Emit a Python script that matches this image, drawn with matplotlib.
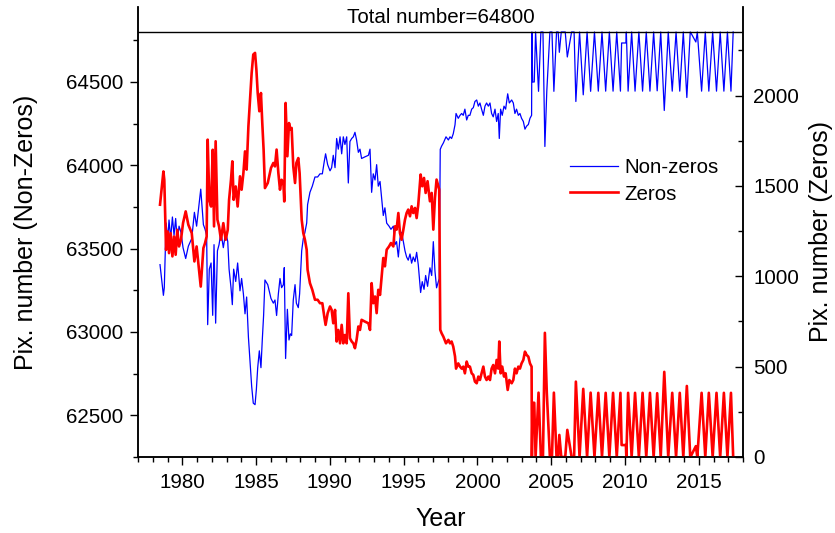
import numpy as np
import matplotlib.pyplot as plt
from matplotlib.lines import Line2D
from matplotlib.ticker import MultipleLocator

plt.rcParams["font.family"] = ["Liberation Sans", "DejaVu Sans"]

# ── Data ──────────────────────────────────────────────────────────────────────
TOTAL = 64800  # every pixel is either zero or non-zero

# zero-pixel counts, 1978.5 – mid 2003 (irregular spacing)
trace_years = [
    1978.49, 1978.72, 1978.78, 1978.90,
    1979.01, 1979.10, 1979.21, 1979.33, 1979.44, 1979.55, 1979.66, 1979.78, 1979.91,
    1980.05, 1980.23, 1980.41, 1980.64, 1980.82, 1980.97,
    1981.16, 1981.25, 1981.43, 1981.54, 1981.65, 1981.72, 1981.83, 1981.95,
    1982.06, 1982.15, 1982.26, 1982.38, 1982.49, 1982.62, 1982.78, 1982.94,
    1983.08, 1983.17, 1983.30, 1983.39, 1983.48, 1983.62, 1983.75, 1983.91,
    1984.02, 1984.14, 1984.25, 1984.36, 1984.48, 1984.59, 1984.70, 1984.81, 1984.93,
    1985.02, 1985.11, 1985.22, 1985.33, 1985.42, 1985.51, 1985.60, 1985.79, 1985.94,
    1986.01, 1986.17, 1986.28, 1986.39, 1986.51, 1986.62, 1986.73, 1986.85, 1986.91,
    1987.00, 1987.12, 1987.23, 1987.32, 1987.41, 1987.52, 1987.64, 1987.73, 1987.86, 1987.95,
    1988.09, 1988.20, 1988.31, 1988.43, 1988.49, 1988.65, 1988.81, 1988.99,
    1989.17, 1989.33, 1989.49, 1989.62, 1989.71, 1989.85,
    1990.01, 1990.12, 1990.23, 1990.35, 1990.46, 1990.57, 1990.69, 1990.80, 1990.91,
    1991.02, 1991.14, 1991.25, 1991.36, 1991.48, 1991.59, 1991.70, 1991.81, 1991.93,
    1992.04, 1992.15, 1992.38, 1992.61, 1992.72, 1992.83, 1992.94,
    1993.06, 1993.17, 1993.28, 1993.40, 1993.51, 1993.62, 1993.73, 1993.85,
    1994.01, 1994.14, 1994.30, 1994.41, 1994.52, 1994.64, 1994.75, 1994.86, 1994.98,
    1995.09, 1995.20, 1995.31, 1995.43, 1995.54, 1995.65, 1995.77, 1995.88, 1995.99,
    1996.15, 1996.26, 1996.38, 1996.49, 1996.62, 1996.78, 1996.90,
    1997.01, 1997.12, 1997.23, 1997.35, 1997.41, 1997.48, 1997.57, 1997.69, 1997.87,
    1998.03, 1998.14, 1998.25, 1998.36, 1998.48, 1998.55, 1998.70, 1998.82, 1998.93,
    1999.04, 1999.15, 1999.27, 1999.38, 1999.49, 1999.61, 1999.72, 1999.83, 1999.95,
    2000.06, 2000.17, 2000.28, 2000.40, 2000.51, 2000.62, 2000.74, 2000.85, 2000.96,
    2001.07, 2001.19, 2001.30, 2001.41, 2001.48, 2001.57, 2001.68, 2001.80, 2001.91,
    2002.05, 2002.16, 2002.32, 2002.43, 2002.54, 2002.65, 2002.77, 2002.88, 2002.99,
    2003.11, 2003.22, 2003.33, 2003.45, 2003.56, 2003.67,
]
trace_zeros = [
    1396, 1580, 1534, 1146,
    1248, 1128, 1239, 1110, 1220, 1119, 1257, 1165, 1202,
    1294, 1359, 1285, 1239, 1082, 1165,
    1017, 943, 1156, 1183, 1220, 1756, 1423, 1386,
    1700, 1276, 1747, 1313, 1276, 1202, 1294, 1202,
    1257, 1423, 1534, 1636, 1423, 1497, 1386, 1553,
    1479, 1571, 1691, 1590, 1830, 1978, 2125, 2227, 2236,
    2144, 2014, 1913, 2014, 1848, 1700, 1488, 1516, 1571,
    1599, 1627, 1608, 1701, 1571, 1479, 1534, 1516, 1414,
    1959, 1664, 1848, 1811, 1821, 1608, 1516, 1627, 1654, 1571,
    1313, 1239, 1202, 1146, 1036, 962, 925, 870,
    870, 851, 851, 777, 731, 796,
    833, 814, 740, 814, 639, 703, 629, 731, 629,
    675, 629, 906, 657, 639, 629, 602, 648, 722,
    703, 759, 749, 740, 703, 962, 851,
    888, 796, 925, 897, 999, 1101, 1055, 1147,
    1165, 1184, 1165, 1276, 1258, 1350, 1239, 1202, 1258,
    1313, 1350, 1369, 1332, 1387, 1350, 1378, 1322, 1396,
    1563, 1498, 1544, 1461, 1526, 1415, 1461,
    1258, 1433, 1535, 1498, 1480, 704, 685, 666, 629,
    648, 629, 639, 611, 557, 489, 518, 500, 489,
    500, 463, 528, 500, 500, 463, 454, 417, 408,
    445, 426, 463, 500, 445, 426, 445, 426, 489,
    509, 463, 537, 489, 639, 463, 500, 445, 463,
    371, 426, 408, 426, 489, 463, 500, 489, 518,
    537, 583, 565, 555, 518, 500,
]

# after mid 2003 the count swings between 0 and ~355 twice a year:
# peaks and troughs
swing_years = [
    2003.69, 2003.74, 2003.85, 2003.94,
    2004.14, 2004.30, 2004.44, 2004.57, 2004.70, 2004.91,
    2005.05, 2005.18, 2005.36, 2005.47, 2005.55, 2005.68,
    2005.95, 2006.09, 2006.38, 2006.55, 2006.67, 2006.92,
    2007.17, 2007.43, 2007.67, 2007.93,
    2008.19, 2008.44, 2008.69, 2008.94,
    2009.19, 2009.44, 2009.69, 2009.77, 2010.06, 2010.09,
    2010.21, 2010.45, 2010.68, 2010.94,
    2011.19, 2011.44, 2011.69, 2011.94,
    2012.18, 2012.42, 2012.66, 2012.93,
    2013.20, 2013.46, 2013.71, 2013.95,
    2014.19, 2014.42, 2014.50, 2014.80, 2014.90,
    2015.19, 2015.44, 2015.68, 2015.94,
    2016.20, 2016.45, 2016.70, 2016.94,
    2017.18, 2017.33,
]
swing_zeros = [
    0, 300, 300, 0,
    356, 0, 0, 687, 355, 0,
    0, 356, 0, 0, 122, 0,
    0, 150, 0, 0, 417, 0,
    377, 0, 356, 0,
    355, 0, 355, 0,
    355, 0, 355, 66, 66, 0,
    355, 0, 355, 0,
    355, 0, 355, 0,
    353, 0, 471, 0,
    355, 0, 355, 0,
    393, 0, 11, 60, 0,
    355, 0, 355, 0,
    355, 0, 355, 0,
    355, 0,
]

years = np.concatenate([trace_years, swing_years])
zeros = np.concatenate([trace_zeros, swing_zeros]).astype(float)
nonzeros = TOTAL - zeros

# ── Plot ──────────────────────────────────────────────────────────────────────
BLUE, RED = "#0000ff", "#ff0000"
FS_TICK, FS_LABEL = 14.8, 18
LW_BLUE, LW_RED = 0.9, 1.9

fig = plt.figure(figsize=(8.35, 5.33), dpi=100)
ax = fig.add_axes([0.1653, 0.1426, 0.7246, 0.8443])
ax2 = ax.twinx()

ax.plot(years, nonzeros, color=BLUE, lw=LW_BLUE)
ax2.plot(years, zeros, color=RED, lw=LW_RED)
ax.axhline(TOTAL, color="black", lw=1.0, zorder=5)

ax.set_xlim(1977, 2018)
ax.set_ylim(62250, 64950)
ax2.set_ylim(0, 2490)

ax.xaxis.set_major_locator(MultipleLocator(5))
ax.xaxis.set_minor_locator(MultipleLocator(1))
ax.yaxis.set_major_locator(MultipleLocator(500))
ax.yaxis.set_minor_locator(MultipleLocator(250))
ax2.yaxis.set_major_locator(MultipleLocator(500))
ax2.yaxis.set_minor_locator(MultipleLocator(250))

for a in (ax, ax2):
    a.spines["top"].set_visible(False)
    for s in a.spines.values():
        s.set_linewidth(1.1)

ax.tick_params(axis="both", which="major", direction="out", length=6.1,
               width=1.0, labelsize=FS_TICK, top=False, right=False)
ax.tick_params(axis="both", which="minor", direction="out", length=3.6,
               width=1.0, top=False, right=False)
ax.tick_params(axis="x", which="major", pad=5.4)
ax.tick_params(axis="y", which="major", pad=4.7)
ax2.tick_params(axis="y", which="major", direction="in", length=6.1,
                width=1.0, labelsize=FS_TICK, pad=7.2)
ax2.tick_params(axis="y", which="minor", direction="in", length=3.6, width=1.0)

ax.set_xlabel("Year", fontsize=FS_LABEL)
ax.set_ylabel("Pix. number (Non-Zeros)", fontsize=FS_LABEL)
ax2.set_ylabel("Pix. number (Zeros)", fontsize=FS_LABEL)
ax.xaxis.set_label_coords(0.5, -0.112)
ax.yaxis.set_label_coords(-0.165, 0.5)
ax2.yaxis.set_label_coords(1.109, 0.5)

ax.text(0.5, 0.977, f"Total number={TOTAL}", transform=ax.transAxes,
        ha="center", va="center", fontsize=FS_TICK)

handles = [Line2D([], [], color=BLUE, lw=LW_BLUE, label="Non-zeros"),
           Line2D([], [], color=RED, lw=LW_RED, label="Zeros")]
ax2.legend(handles=handles, loc="upper left", bbox_to_anchor=(0.714, 0.664),
           frameon=False, fontsize=FS_TICK, handlelength=2.35,
           handletextpad=0.3, borderpad=0, borderaxespad=0, labelspacing=0.36)

fig.savefig("out.png", dpi=100)
